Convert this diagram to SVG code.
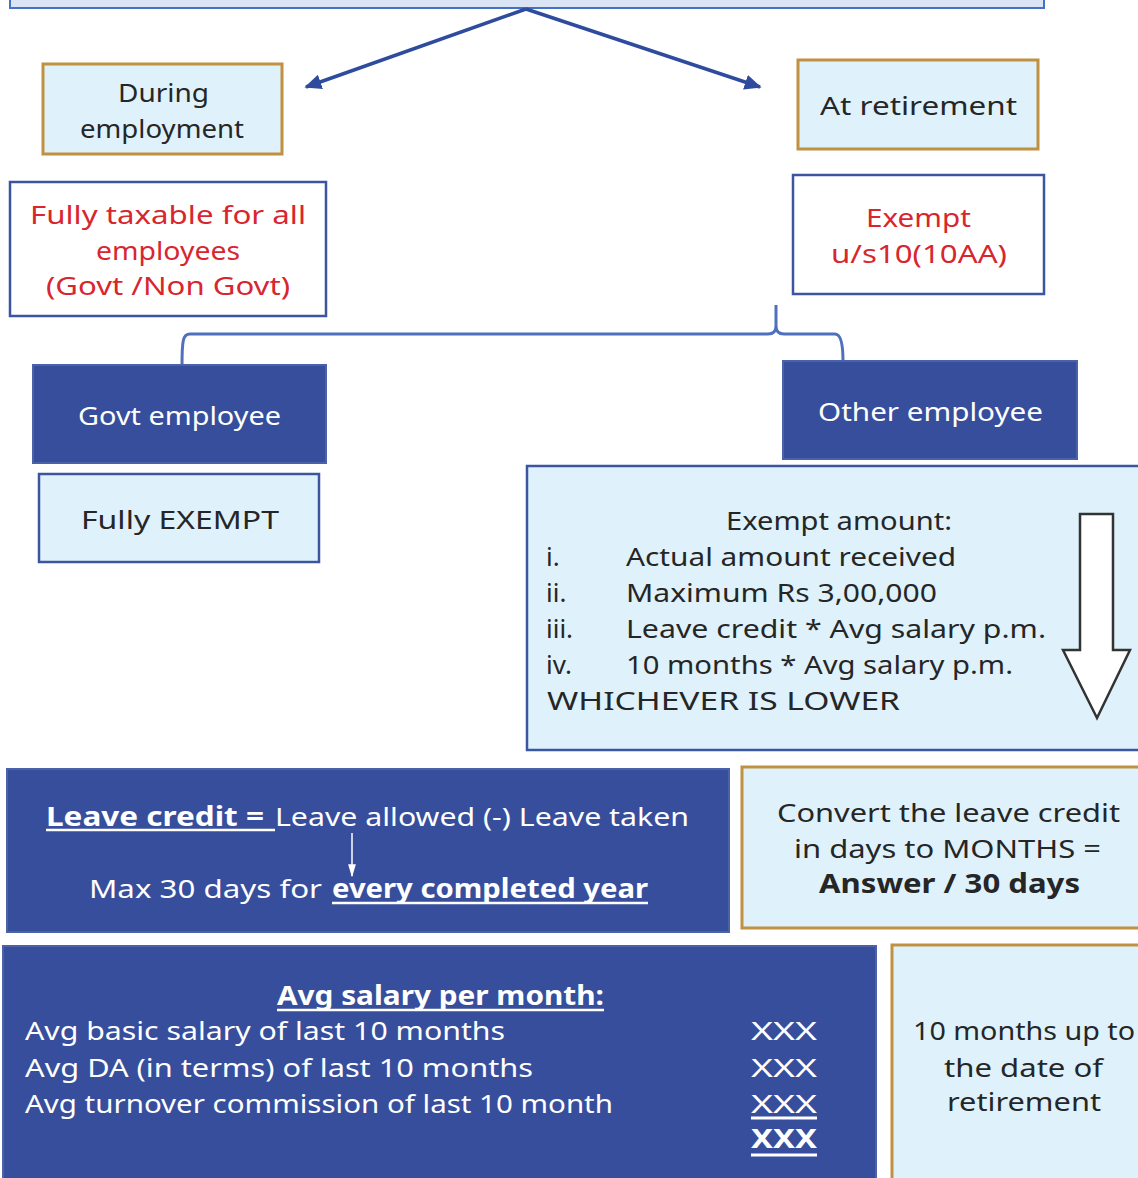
<svg xmlns="http://www.w3.org/2000/svg" width="1138" height="1178" viewBox="0 0 1138 1178">
<style>
text{font-family:"Noto Sans","DejaVu Sans",sans-serif;font-size:26px}
.dk{fill:#262626}
.wh{fill:#ffffff}
.rd{fill:#d8262f}
.b{font-weight:bold}
.lb{fill:#dff2fc}
.gold{stroke:#bf9140;stroke-width:3}
.blu{stroke:#3b559f;stroke-width:2.5}
.navy{fill:#374e9c;stroke:#4a62a8;stroke-width:2}
.ul{stroke:#ffffff;stroke-width:2.5}
</style>
<defs>
<marker id="ah" viewBox="0 0 10 10" refX="9" refY="5" markerWidth="17" markerHeight="17" orient="auto" markerUnits="userSpaceOnUse">
<path d="M0,0.5 L10,5 L0,9.5 z" fill="#2f4b9e"/>
</marker>
<marker id="wa" viewBox="0 0 10 10" refX="9" refY="5" markerWidth="13" markerHeight="13" orient="auto" markerUnits="userSpaceOnUse">
<path d="M0,2 L10,5 L0,8 z" fill="#ffffff"/>
</marker>
</defs>
<rect width="1138" height="1178" fill="#ffffff"/>

<g id="top">
<rect x="10" y="-12" width="1034" height="20" fill="#dae4f4" stroke="#4472c4" stroke-width="2"/>
</g>

<g id="connectors" fill="none">
<path d="M526,9 L306,87" stroke="#2f4b9e" stroke-width="3.5" marker-end="url(#ah)"/>
<path d="M526,9 L760,87" stroke="#2f4b9e" stroke-width="3.5" marker-end="url(#ah)"/>
<path d="M182,366 C182,340 183,334 190,334 L768,334 Q776,334 776,326 L776,305 M776,326 Q776,334 784,334 L835,334 Q843,334 843,361" stroke="#4f71bd" stroke-width="3"/>
</g>

<g id="during">
<rect x="43" y="64" width="239" height="90" class="lb gold"/>
<text x="118" y="102" class="dk" textLength="91" lengthAdjust="spacingAndGlyphs">During</text>
<text x="80" y="138" class="dk" textLength="164" lengthAdjust="spacingAndGlyphs">employment</text>
</g>

<g id="retirement">
<rect x="798" y="60" width="240" height="89" class="lb gold"/>
<text x="820" y="115" class="dk" textLength="197" lengthAdjust="spacingAndGlyphs">At retirement</text>
</g>

<g id="taxable">
<rect x="10" y="182" width="316" height="134" fill="#ffffff" class="blu"/>
<text x="30" y="224" class="rd" textLength="276" lengthAdjust="spacingAndGlyphs">Fully taxable for all</text>
<text x="96" y="260" class="rd" textLength="144" lengthAdjust="spacingAndGlyphs">employees</text>
<text x="46" y="295" class="rd" textLength="244" lengthAdjust="spacingAndGlyphs">(Govt /Non Govt)</text>
</g>

<g id="exempt">
<rect x="793" y="175" width="251" height="119" fill="#ffffff" class="blu"/>
<text x="866" y="227" class="rd" textLength="105" lengthAdjust="spacingAndGlyphs">Exempt</text>
<text x="831" y="263" class="rd" textLength="176" lengthAdjust="spacingAndGlyphs">u/s10(10AA)</text>
</g>

<g id="govt">
<rect x="33" y="365" width="293" height="98" class="navy"/>
<text x="78" y="425" class="wh" textLength="203" lengthAdjust="spacingAndGlyphs">Govt employee</text>
</g>

<g id="other">
<rect x="783" y="361" width="294" height="98" class="navy"/>
<text x="818" y="421" class="wh" textLength="225" lengthAdjust="spacingAndGlyphs">Other employee</text>
</g>

<g id="fullyexempt">
<rect x="39" y="474" width="280" height="88" class="lb blu"/>
<text x="81" y="529" class="dk" textLength="198" lengthAdjust="spacingAndGlyphs">Fully EXEMPT</text>
</g>

<g id="exemptamount">
<rect x="527" y="466" width="620" height="284" class="lb blu"/>
<text x="726" y="530" class="dk" textLength="226" lengthAdjust="spacingAndGlyphs">Exempt amount:</text>
<text x="546" y="566" class="dk">i.</text>
<text x="626" y="566" class="dk" textLength="330" lengthAdjust="spacingAndGlyphs">Actual amount received</text>
<text x="546" y="602" class="dk">ii.</text>
<text x="626" y="602" class="dk" textLength="311" lengthAdjust="spacingAndGlyphs">Maximum Rs 3,00,000</text>
<text x="546" y="638" class="dk">iii.</text>
<text x="626" y="638" class="dk" textLength="420" lengthAdjust="spacingAndGlyphs">Leave credit * Avg salary p.m.</text>
<text x="546" y="674" class="dk">iv.</text>
<text x="626" y="674" class="dk" textLength="387" lengthAdjust="spacingAndGlyphs">10 months * Avg salary p.m.</text>
<text x="547" y="710" class="dk" textLength="353" lengthAdjust="spacingAndGlyphs">WHICHEVER IS LOWER</text>
<path d="M1080,514 L1113,514 L1113,650 L1130,650 L1097,718 L1063,650 L1080,650 Z" fill="#ffffff" stroke="#333333" stroke-width="2.5" stroke-linejoin="miter"/>
</g>

<g id="leavecredit">
<rect x="7" y="769" width="722" height="163" class="navy"/>
<text x="46" y="826" class="wh b" textLength="218" lengthAdjust="spacingAndGlyphs">Leave credit =</text>
<text x="275" y="826" class="wh" textLength="414" lengthAdjust="spacingAndGlyphs">Leave allowed (-) Leave taken</text>
<line x1="46" y1="830" x2="275" y2="830" class="ul"/>
<line x1="352" y1="833" x2="352" y2="876" stroke="#ffffff" stroke-width="1.5" marker-end="url(#wa)"/>
<text x="89" y="898" class="wh" textLength="233" lengthAdjust="spacingAndGlyphs">Max 30 days for</text>
<text x="332" y="898" class="wh b" textLength="316" lengthAdjust="spacingAndGlyphs">every completed year</text>
<line x1="332" y1="903" x2="648" y2="903" class="ul"/>
</g>

<g id="convert">
<rect x="742" y="767" width="410" height="161" class="lb gold"/>
<text x="777" y="822" class="dk" textLength="343" lengthAdjust="spacingAndGlyphs">Convert the leave credit</text>
<text x="794" y="858" class="dk" textLength="307" lengthAdjust="spacingAndGlyphs">in days to MONTHS =</text>
<text x="819" y="893" class="dk b" textLength="261" lengthAdjust="spacingAndGlyphs">Answer / 30 days</text>
</g>

<g id="avgsalary">
<rect x="3" y="946" width="873" height="240" class="navy"/>
<text x="277" y="1005" class="wh b" textLength="327" lengthAdjust="spacingAndGlyphs">Avg salary per month:</text>
<line x1="277" y1="1010" x2="604" y2="1010" class="ul"/>
<text x="25" y="1040" class="wh" textLength="480" lengthAdjust="spacingAndGlyphs">Avg basic salary of last 10 months</text>
<text x="25" y="1077" class="wh" textLength="508" lengthAdjust="spacingAndGlyphs">Avg DA (in terms) of last 10 months</text>
<text x="25" y="1113" class="wh" textLength="588" lengthAdjust="spacingAndGlyphs">Avg turnover commission of last 10 month</text>
<text x="751" y="1040" class="wh" textLength="66" lengthAdjust="spacingAndGlyphs">XXX</text>
<text x="751" y="1077" class="wh" textLength="66" lengthAdjust="spacingAndGlyphs">XXX</text>
<text x="751" y="1113" class="wh" textLength="66" lengthAdjust="spacingAndGlyphs">XXX</text>
<line x1="751" y1="1118" x2="817" y2="1118" stroke="#ffffff" stroke-width="3"/>
<text x="751" y="1148" class="wh b" textLength="66" lengthAdjust="spacingAndGlyphs">XXX</text>
<line x1="751" y1="1155" x2="817" y2="1155" stroke="#ffffff" stroke-width="3"/>
</g>

<g id="tenmonths">
<rect x="892" y="945" width="260" height="245" class="lb gold"/>
<text x="913" y="1040" class="dk" textLength="222" lengthAdjust="spacingAndGlyphs">10 months up to</text>
<text x="944" y="1077" class="dk" textLength="159" lengthAdjust="spacingAndGlyphs">the date of</text>
<text x="947" y="1111" class="dk" textLength="154" lengthAdjust="spacingAndGlyphs">retirement</text>
</g>
</svg>
